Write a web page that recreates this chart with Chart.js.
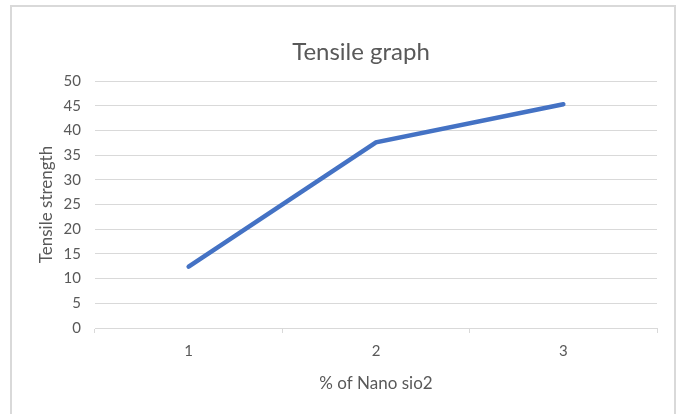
<!DOCTYPE html>
<html>
<head>
<meta charset="utf-8">
<script src="https://cdn.jsdelivr.net/npm/chart.js@4.4.1/dist/chart.umd.min.js"></script>
<style>
  html, body { margin: 0; padding: 0; background: #ffffff; }
  #frame { position: absolute; left: 10px; top: 5px; width: 666px; height: 430px; border: 2px solid #d9d9d9; box-sizing: border-box; }
  #wrap { position: absolute; left: 0; top: 0; width: 679px; height: 414px; }
</style>
</head>
<body>
<div id="frame"></div>
<div id="wrap"><canvas id="c" width="679" height="414"></canvas></div>
<script>
const categories = ['1', '2', '3'];
const tensileStrength = [12.4, 37.6, 45.3];
const yTicks = [0, 5, 10, 15, 20, 25, 30, 35, 40, 45, 50];
const chartTitle = 'Tensile graph';
const xTitle = '% of Nano sio2';
const yTitle = 'Tensile strength';

const FONT = 'Lato, "Open Sans", sans-serif';
const TXT = '#595959';
const GRID = '#d9d9d9';

const titlePlugin = {
  id: 'topTitle',
  afterDraw(chart) {
    const ctx = chart.ctx;
    const a = chart.chartArea;
    ctx.save();
    ctx.fillStyle = TXT;
    ctx.font = '24px ' + FONT;
    ctx.textAlign = 'center';
    ctx.textBaseline = 'middle';
    ctx.fillText(chartTitle, (a.left + a.right) / 2 - 15, a.top - 29);
    ctx.restore();
  }
};

new Chart(document.getElementById('c'), {
  type: 'line',
  data: {
    labels: categories,
    datasets: [{
      data: tensileStrength,
      borderColor: '#4472c4',
      borderWidth: 4.5,
      pointRadius: 0,
      pointHoverRadius: 0,
      tension: 0,
      fill: false,
      borderCapStyle: 'round'
    }]
  },
  options: {
    responsive: false,
    animation: false,
    layout: { padding: { left: 0, right: 22, top: 81, bottom: 20 } },
    plugins: { legend: { display: false }, tooltip: { enabled: false }, title: { display: false } },
    scales: {
      x: {
        offset: true,
        afterFit(scale) { scale.height = 66; },
        grid: { offset: true, drawOnChartArea: false, drawTicks: true, tickLength: 5, color: GRID, lineWidth: 1 },
        border: { display: true, color: GRID, width: 1 },
        ticks: { color: TXT, font: { family: FONT, size: 15 }, padding: 9 },
        title: { display: true, text: xTitle, color: TXT, font: { family: FONT, size: 17 }, padding: { top: 4, bottom: 0 } }
      },
      y: {
        min: 0, max: 50,
        afterFit(scale) { scale.width = 95; },
        afterBuildTicks(scale) { scale.ticks = yTicks.map(v => ({ value: v })); },
        grid: { drawTicks: false, color: GRID, lineWidth: 1 },
        border: { display: false },
        ticks: { color: TXT, font: { family: FONT, size: 15 }, padding: 14 },
        title: { display: true, text: yTitle, color: TXT, font: { family: FONT, size: 17 }, padding: { top: 36, bottom: 0 } }
      }
    }
  },
  plugins: [titlePlugin]
});
</script>
</body>
</html>
